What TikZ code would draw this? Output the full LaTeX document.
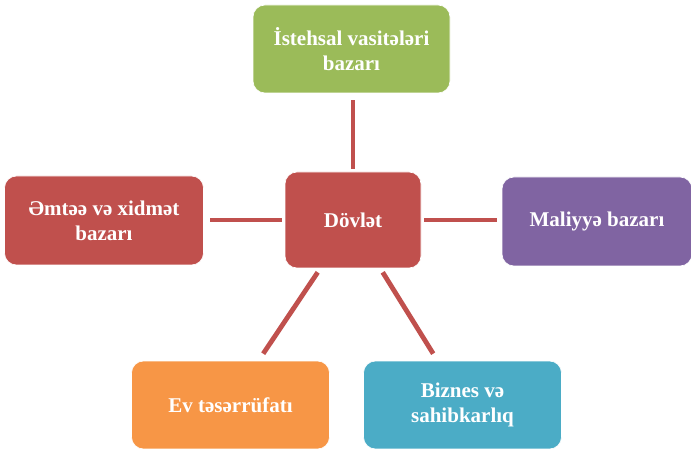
\documentclass[tikz,border=0pt]{standalone}
\usepackage{fontspec}
\setmainfont{Liberation Serif}
\usepackage{tikz}
\usetikzlibrary{calc}

\definecolor{boxred}{HTML}{C0504D}
\definecolor{boxgreen}{HTML}{9BBB59}
\definecolor{boxpurple}{HTML}{8064A2}
\definecolor{boxorange}{HTML}{F79646}
\definecolor{boxblue}{HTML}{4BACC6}

\tikzset{
  box/.style={rectangle, rounded corners=12pt, draw=white, line width=0.6pt,
    inner sep=0pt, align=center, text=white,
    font=\fontsize{21}{25}\selectfont\bfseries},
  link/.style={draw=boxred, line width=4.8pt}
}

\begin{document}
\begin{tikzpicture}[x=1pt,y=-1pt]
\useasboundingbox (0,0) rectangle (691,449);

\node[box, fill=boxred, minimum width=136pt, minimum height=96pt] (D) at (353,220) {Dövlət};
\node[box, fill=boxgreen, minimum width=197pt, minimum height=88pt] (T) at (351.5,49) {İstehsal vasitələri\\bazarı};
\node[box, fill=boxred, minimum width=199pt, minimum height=89pt] (L) at (104,220.5) {Əmtəə və xidmət\\bazarı};
\node[box, fill=boxpurple, minimum width=190pt, minimum height=89pt] (M) at (597,221.5) {Maliyyə bazarı};
\node[box, fill=boxorange, minimum width=198pt, minimum height=88pt] (E) at (230.5,405) {Ev təsərrüfatı};
\node[box, fill=boxblue, minimum width=198pt, minimum height=88pt] (B) at (462.5,405) {Biznes və\\sahibkarlıq};

\draw[link, shorten <=3pt, shorten >=7pt] (D.north) to (D.north |- T.south);
\draw[link, shorten <=3pt, shorten >=6pt] (D.west) to (D.west -| L.east);
\draw[link, shorten <=3pt, shorten >=5pt] (D.east) to (D.east -| M.west);
\draw[link] ($(D.south west)+(33,4)$) to ($(E.north west)+(132,-7)$);
\draw[link] ($(D.south west)+(98,4)$) to ($(B.north west)+(70,-7)$);

\end{tikzpicture}
\end{document}
